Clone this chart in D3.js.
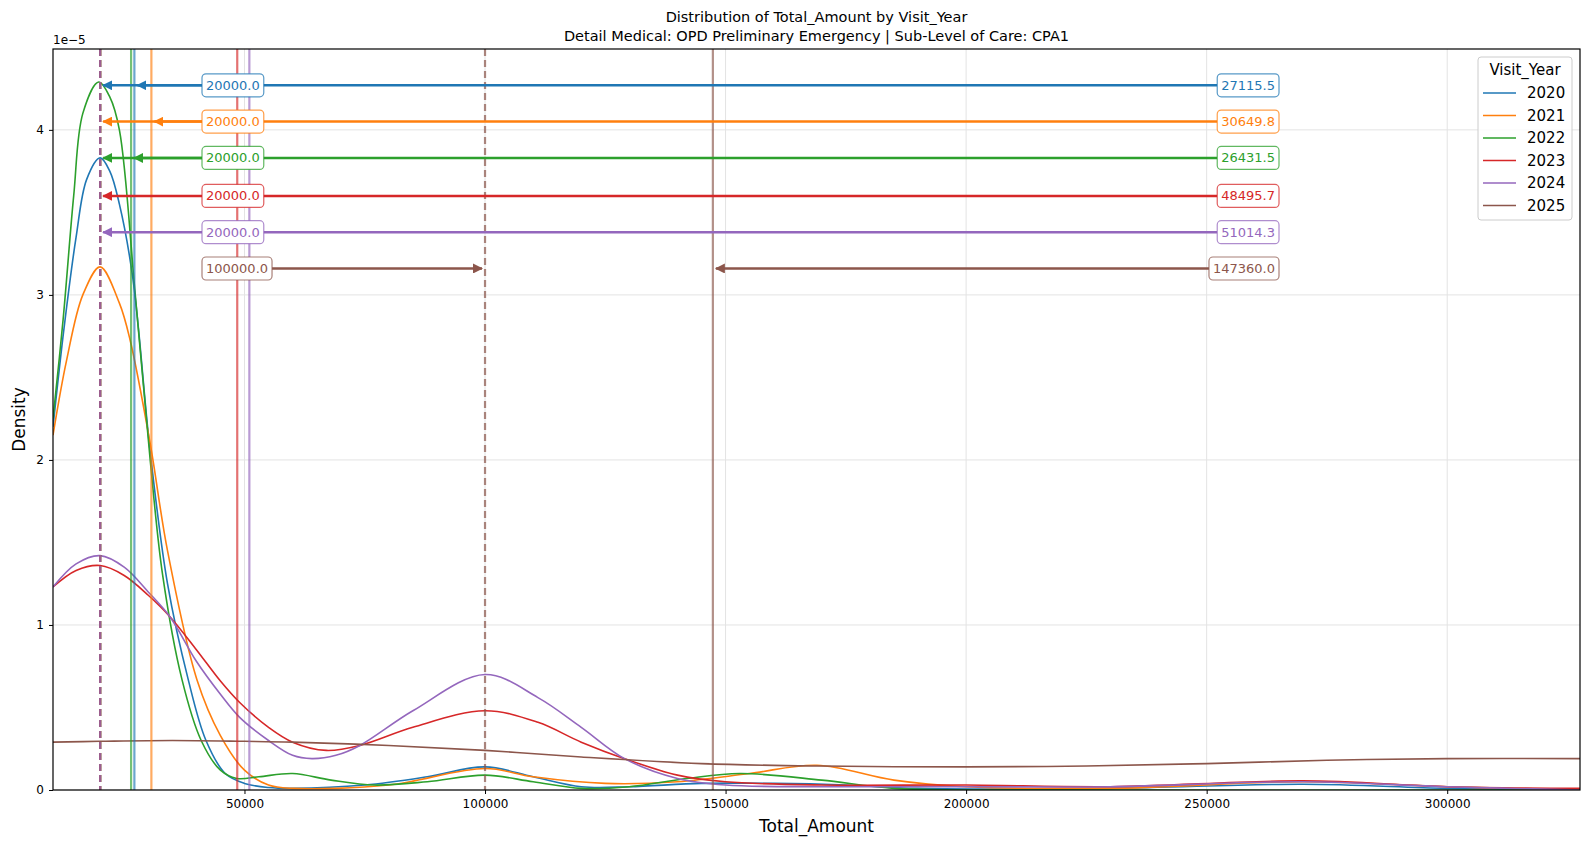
<!DOCTYPE html>
<html><head><meta charset="utf-8">
<script src="https://cdn.jsdelivr.net/npm/d3@7"></script>
<style>body{margin:0;background:#fff;font-family:"DejaVu Sans",sans-serif;}</style>
</head><body><svg id="c" width="1589" height="849"></svg>
<script>
const years = ["2020","2021","2022","2023","2024","2025"];
const colors = ["#1f77b4","#ff7f0e","#2ca02c","#d62728","#9467bd","#8c564b"];
const means = [27115.5,30649.8,26431.5,48495.7,51014.3,147360.0];
const medians = [20000,20000,20000,20000,20000,100000];
const arrowY = [4.27,4.05,3.83,3.60,3.38,3.16];
const xTicks = [50000,100000,150000,200000,250000,300000];
const yTicks = [0,1,2,3,4];
// KDE curves: [Total_Amount (thousands), density (1e-5)]
const kde2020 = [[10.2,2.2],[12.5,2.8],[15,3.35],[17.2,3.7],[20,3.83],[22,3.75],[24,3.55],[26.8,3.1],[30.4,2.05],[34,1.25],[38.3,0.67],[42,0.3],[46,0.1],[50,0.04],[55,0.015],[60,0.01],[75,0.03],[88,0.08],[100,0.14],[110,0.08],[120,0.02],[130,0.02],[145,0.04],[160,0.04],[175,0.03],[190,0.01],[230,0.01],[270,0.035],[300,0.01],[327.6,0]];
const kde2021 = [[10.2,2.15],[13,2.6],[16.4,3.0],[20,3.17],[24,2.95],[26.2,2.73],[30.4,2.1],[34,1.45],[40.1,0.67],[45,0.33],[50,0.12],[55,0.03],[60,0.01],[80,0.03],[100,0.13],[110,0.08],[125,0.04],[140,0.05],[155,0.1],[169,0.15],[185,0.06],[200,0.02],[230,0.01],[270,0.05],[300,0.02],[327.6,0]];
const kde2022 = [[10.2,2.25],[12.3,2.85],[14.5,3.6],[16.4,4.1],[19.7,4.29],[22,4.2],[24,4.0],[27.3,3.0],[30.4,2.0],[33,1.3],[37,0.67],[41,0.3],[45,0.12],[48.4,0.07],[53,0.08],[60,0.1],[68,0.06],[77,0.03],[88,0.05],[100,0.09],[110,0.05],[120,0.01],[130,0.02],[142,0.07],[153,0.1],[170,0.06],[185,0.01],[220,0],[327.6,0]];
const kde2023 = [[10.2,1.23],[15,1.33],[20,1.36],[25,1.3],[30,1.18],[34.5,1.05],[40,0.85],[45,0.66],[49,0.53],[55,0.38],[60,0.29],[67,0.24],[74,0.27],[85,0.38],[100,0.48],[111,0.41],[120,0.29],[129,0.19],[140,0.09],[150,0.05],[170,0.03],[200,0.03],[230,0.02],[270,0.055],[300,0.02],[327.6,0.01]];
const kde2024 = [[10.2,1.23],[15,1.37],[20,1.42],[25,1.35],[30,1.2],[34.5,1.05],[40,0.78],[45,0.58],[49,0.44],[55,0.3],[60,0.21],[64,0.19],[69,0.21],[74,0.27],[85,0.48],[100,0.7],[111,0.56],[120,0.38],[129,0.19],[140,0.07],[150,0.03],[170,0.02],[200,0.02],[230,0.02],[270,0.05],[300,0.02],[327.6,0]];
const kde2025 = [[10.2,0.29],[20,0.295],[35,0.3],[50,0.295],[60,0.29],[80,0.27],[100,0.24],[120,0.2],[145,0.16],[170,0.145],[200,0.14],[225,0.145],[250,0.16],[275,0.18],[300,0.19],[327.6,0.19]];
const kdes = [kde2020,kde2021,kde2022,kde2023,kde2024,kde2025];

const svg = d3.select("#c");
const L=53,R=1580,T=49,B=790;
const x = d3.scaleLinear().domain([10200,327600]).range([L,R]);
const y = d3.scaleLinear().domain([0,4.49]).range([B,T]);

const defs = svg.append("defs");
colors.forEach((c,i)=>{
  defs.append("marker").attr("id","ah"+i).attr("viewBox","0 0 10 10").attr("refX",9).attr("refY",5)
   .attr("markerWidth",4).attr("markerHeight",4).attr("orient","auto-start-reverse").attr("markerUnits","strokeWidth")
   .append("path").attr("d","M0,0L10,5L0,10z").attr("fill",c);
});
defs.append("clipPath").attr("id","clip").append("rect").attr("x",L).attr("y",T).attr("width",R-L).attr("height",B-T);

// grid
const g = svg.append("g");
g.selectAll(".gx").data(xTicks).join("line").attr("x1",d=>x(d)).attr("x2",d=>x(d)).attr("y1",T).attr("y2",B).attr("stroke","#e3e3e3");
g.selectAll(".gy").data(yTicks).join("line").attr("x1",L).attr("x2",R).attr("y1",d=>y(d)).attr("y2",d=>y(d)).attr("stroke","#e3e3e3");

const plot = svg.append("g").attr("clip-path","url(#clip)");
const line = d3.line().x(d=>x(d[0]*1000)).y(d=>y(d[1])).curve(d3.curveCatmullRom.alpha(0.5));
kdes.forEach((k,i)=>{
  plot.append("path").datum(k).attr("d",line).attr("fill","none").attr("stroke",colors[i]).attr("stroke-width",1.6);
});
// mean & median lines
years.forEach((yr,i)=>{
  plot.append("line").attr("x1",x(means[i])).attr("x2",x(means[i])).attr("y1",T).attr("y2",B)
    .attr("stroke",colors[i]).attr("stroke-width",2.2).attr("opacity",0.65);
});
years.forEach((yr,i)=>{
  plot.append("line").attr("x1",x(medians[i])).attr("x2",x(medians[i])).attr("y1",T).attr("y2",B)
    .attr("stroke",colors[i]).attr("stroke-width",2.2).attr("opacity",0.7).attr("stroke-dasharray","7,4");
});

// annotations
const leftX = 206, rightX = 1275;
years.forEach((yr,i)=>{
  const yy = y(arrowY[i]);
  const c = colors[i];
  // left label
  const lt = svg.append("text").attr("x",leftX).attr("y",yy).attr("dy","0.35em").attr("font-size",13).attr("fill",c).text(medians[i].toFixed(1));
  const lw = lt.node().getComputedTextLength();
  const rt = svg.append("text").attr("x",rightX).attr("y",yy).attr("dy","0.35em").attr("text-anchor","end").attr("font-size",13).attr("fill",c).text(means[i].toFixed(1));
  const rw = rt.node().getComputedTextLength();
  const lb = [leftX-4, leftX+lw+4], rb=[rightX-rw-4, rightX+4];
  // arrows
  const mx = x(medians[i]), ex = x(means[i]);
  const a1s = mx < lb[0] ? lb[0] : lb[1];
  svg.insert("line","text").attr("x1",a1s).attr("x2",mx + (mx<a1s?3:-3)).attr("y1",yy).attr("y2",yy)
    .attr("stroke",c).attr("stroke-width",2.5).attr("marker-end","url(#ah"+i+")");
  svg.insert("line","text").attr("x1",rb[0]).attr("x2",ex+3).attr("y1",yy).attr("y2",yy)
    .attr("stroke",c).attr("stroke-width",2.5).attr("marker-end","url(#ah"+i+")");
  [lb,rb].forEach(b=>{
    svg.insert("rect","text").attr("x",b[0]).attr("y",yy-11.5).attr("width",b[1]-b[0]).attr("height",23).attr("rx",4)
      .attr("fill","white").attr("stroke",c).attr("stroke-opacity",0.75).attr("stroke-width",1.2);
  });
});
// bring texts to top
svg.selectAll("text").raise();

// axes
const xa = svg.append("g").attr("transform",`translate(0,${B})`).call(d3.axisBottom(x).tickValues(xTicks).tickFormat(d3.format("d")).tickSize(4).tickPadding(5));
const ya = svg.append("g").attr("transform",`translate(${L},0)`).call(d3.axisLeft(y).tickValues(yTicks).tickFormat(d3.format("d")).tickSize(4).tickPadding(5));
[xa,ya].forEach(a=>{a.select(".domain").remove();a.selectAll("text").attr("font-size",12).attr("font-family","DejaVu Sans").attr("fill","#000");a.selectAll("line").attr("stroke","#000");});
svg.append("rect").attr("x",L).attr("y",T).attr("width",R-L).attr("height",B-T).attr("fill","none").attr("stroke","#000").attr("stroke-width",1.2);

svg.append("text").attr("x",L).attr("y",44).attr("font-size",12).text("1e\u22125");
svg.append("text").attr("x",(L+R)/2).attr("y",22).attr("text-anchor","middle").attr("font-size",14.5).text("Distribution of Total_Amount by Visit_Year");
svg.append("text").attr("x",(L+R)/2).attr("y",41).attr("text-anchor","middle").attr("font-size",14.5).text("Detail Medical: OPD Preliminary Emergency | Sub-Level of Care: CPA1");
svg.append("text").attr("x",(L+R)/2).attr("y",832).attr("text-anchor","middle").attr("font-size",17).text("Total_Amount");
svg.append("text").attr("transform",`translate(25,${(T+B)/2}) rotate(-90)`).attr("text-anchor","middle").attr("font-size",17).text("Density");

// legend
const lg = svg.append("g");
lg.append("rect").attr("x",1478).attr("y",57).attr("width",94).attr("height",163).attr("rx",3).attr("fill","white").attr("fill-opacity",0.8).attr("stroke","#ccc");
lg.append("text").attr("x",1525).attr("y",75).attr("text-anchor","middle").attr("font-size",15).text("Visit_Year");
years.forEach((yr,i)=>{
  const yy = 93 + i*22.5;
  lg.append("line").attr("x1",1483).attr("x2",1516).attr("y1",yy).attr("y2",yy).attr("stroke",colors[i]).attr("stroke-width",1.6);
  lg.append("text").attr("x",1527).attr("y",yy).attr("dy","0.35em").attr("font-size",15).text(yr);
});
</script></body></html>
